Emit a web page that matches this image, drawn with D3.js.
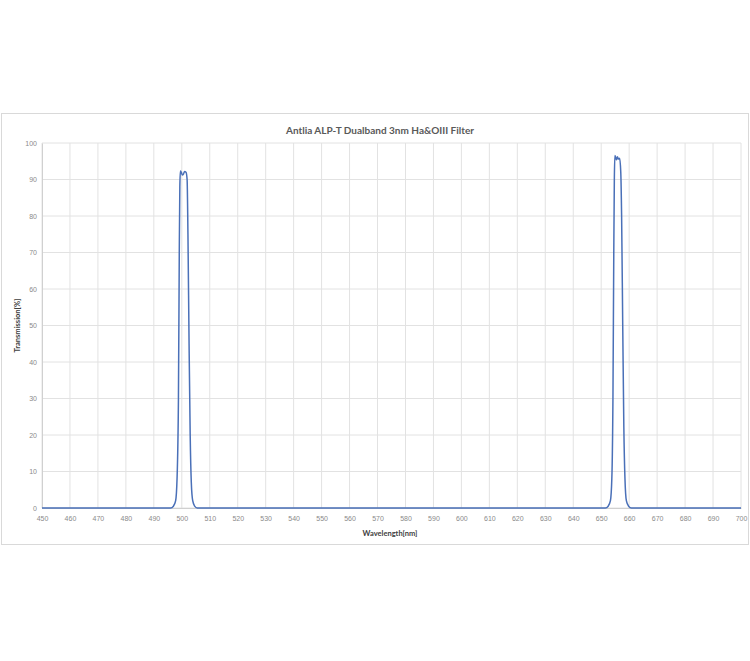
<!DOCTYPE html>
<html>
<head>
<meta charset="utf-8">
<script src="https://cdn.jsdelivr.net/npm/d3@7"></script>
<style>
  body { margin: 0; background: #fff; }
  svg { display: block; font-family: "Lato", "Open Sans", sans-serif; }
</style>
</head>
<body>
<div id="chart"></div>
<script>
// wavelength (nm) and transmission (%)
const wavelength = [
  450, 496.0, 497.0, 497.8, 498.3, 498.8, 499.1, 499.3, 499.5, 499.8, 500.2, 500.6, 501.0, 501.5,
  501.9, 502.2, 502.6, 503.0, 503.4, 503.9, 504.6, 505.5,
  651.5, 652.5, 653.3, 653.8, 654.2, 654.5, 654.7, 654.9, 655.2, 655.5, 655.8, 656.2, 656.6,
  657.0, 657.3, 657.7, 658.1, 658.5, 659.0, 659.8, 660.8, 700
];
const transmission = [
  0, 0, 0.5, 2, 8, 30, 70, 88, 92.3, 92.0, 91.2, 91.5, 92.2, 92.0,
  90, 75, 45, 20, 7, 2, 0.5, 0,
  0, 0.5, 2, 8, 30, 70, 90, 96.6, 96.0, 95.4, 96.2, 95.6, 95.8,
  92, 80, 50, 22, 8, 2, 0.5, 0, 0
];
const xTicks = d3.range(450, 701, 10);
const yTicks = d3.range(0, 101, 10);

const W = 750, H = 661;
const margin = {left: 42, right: 9, top: 143, bottom: 153};

const svg = d3.select("#chart").append("svg")
  .attr("width", W).attr("height", H);

// chart frame
svg.append("rect")
  .attr("x", 1.5).attr("y", 113.5)
  .attr("width", 747).attr("height", 431)
  .attr("fill", "#fff").attr("stroke", "#d9d9d9");

const x = d3.scaleLinear().domain([450, 700]).range([margin.left, W - margin.right]);
const y = d3.scaleLinear().domain([0, 100]).range([H - margin.bottom, margin.top]);

// gridlines
svg.append("g").selectAll("line").data(xTicks).enter().append("line")
  .attr("x1", d => x(d)).attr("x2", d => x(d))
  .attr("y1", y(0)).attr("y2", y(100))
  .attr("stroke", "#e2e2e2").attr("stroke-width", 1);

svg.append("g").selectAll("line").data(yTicks).enter().append("line")
  .attr("x1", x(450)).attr("x2", x(700))
  .attr("y1", d => y(d)).attr("y2", d => y(d))
  .attr("stroke", "#e2e2e2").attr("stroke-width", 1);

// axes
const xAxis = svg.append("g")
  .attr("transform", "translate(0," + y(0) + ")")
  .call(d3.axisBottom(x).tickValues(xTicks).tickSize(0).tickPadding(8));
xAxis.select(".domain").attr("stroke", "#d0d0d0");
xAxis.selectAll("text").attr("fill", "#8a8a8a").style("font-size", "7px");

const yAxis = svg.append("g")
  .attr("transform", "translate(" + x(450) + ",0)")
  .call(d3.axisLeft(y).tickValues(yTicks).tickSize(0).tickPadding(5));
yAxis.select(".domain").attr("stroke", "#d0d0d0");
yAxis.selectAll("text").attr("fill", "#8a8a8a").style("font-size", "7px");

// transmission curve
const pts = wavelength.map((w, i) => [w, transmission[i]]);
svg.append("path")
  .datum(pts)
  .attr("fill", "none")
  .attr("stroke", "#4a70b8")
  .attr("stroke-width", 1.5)
  .attr("stroke-linejoin", "round")
  .attr("d", d3.line().x(d => x(d[0])).y(d => y(d[1])).curve(d3.curveMonotoneX));

// titles
svg.append("text")
  .attr("x", 380).attr("y", 134)
  .attr("text-anchor", "middle")
  .attr("fill", "#595959")
  .style("font-size", "10px").style("font-weight", "bold")
  .text("Antlia ALP-T Dualband 3nm Ha&OIII Filter");

svg.append("text")
  .attr("x", 390).attr("y", 536)
  .attr("text-anchor", "middle")
  .attr("fill", "#404040")
  .style("font-size", "7.5px").style("font-weight", "bold")
  .text("Wavelength[nm]");

svg.append("text")
  .attr("transform", "translate(20," + ((y(0) + y(100)) / 2) + ") rotate(-90)")
  .attr("text-anchor", "middle")
  .attr("fill", "#404040")
  .style("font-size", "7.5px").style("font-weight", "bold")
  .text("Transmission[%]");
</script>
</body>
</html>
